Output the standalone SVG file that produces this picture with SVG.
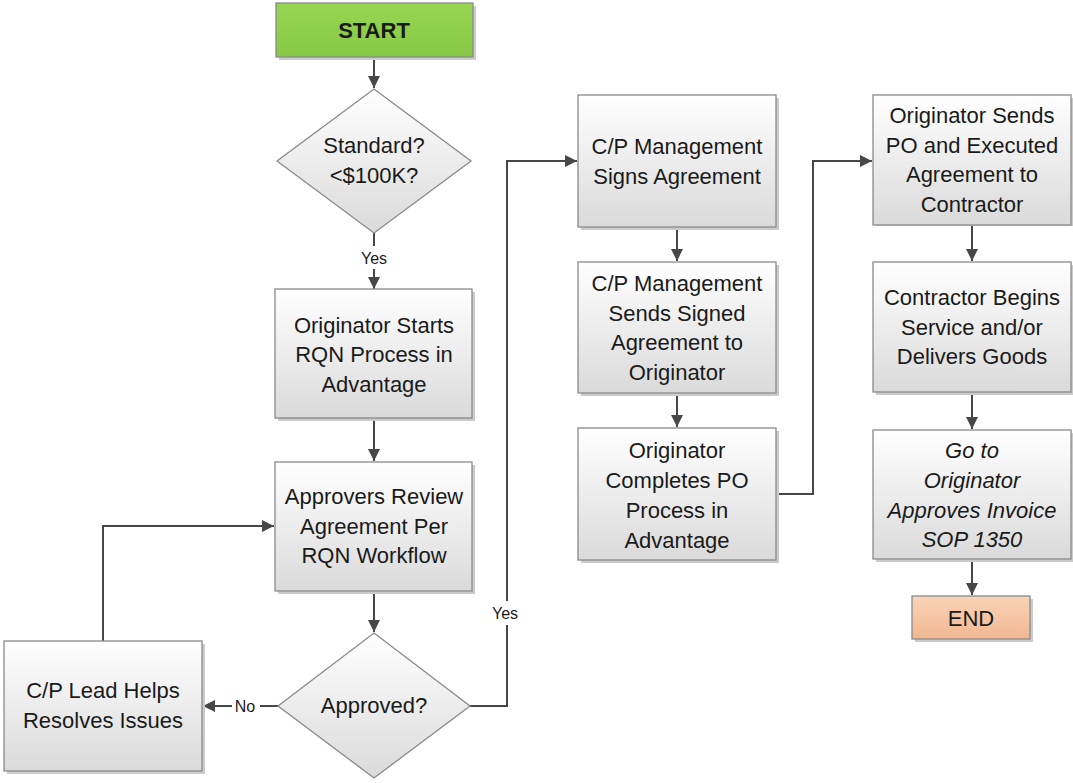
<svg xmlns="http://www.w3.org/2000/svg" width="1073" height="783" viewBox="0 0 1073 783">
  <style>
    .box { fill: url(#gGray); stroke: #8a8a8a; stroke-width: 1.3; }
    .shadow { fill: #cbcbcb; }
    .t { font-family: "Liberation Sans", Arial, sans-serif; font-size: 22px; fill: #1a1a1a; text-anchor: middle; }
    .ti { font-style: italic; }
    .tb { font-weight: bold; }
    .lbl { font-family: "Liberation Sans", Arial, sans-serif; font-size: 16px; fill: #1a1a1a; text-anchor: middle; }
    .conn { fill: none; stroke: #474747; stroke-width: 2; }
  </style>
  <defs>
    <linearGradient id="gGray" x1="0" y1="0" x2="0" y2="1">
      <stop offset="0" stop-color="#ffffff"/>
      <stop offset="1" stop-color="#dadada"/>
    </linearGradient>
    <linearGradient id="gGreen" x1="0" y1="0" x2="0" y2="1">
      <stop offset="0" stop-color="#97d654"/>
      <stop offset="1" stop-color="#86c843"/>
    </linearGradient>
    <linearGradient id="gPeach" x1="0" y1="0" x2="0" y2="1">
      <stop offset="0" stop-color="#fad4b8"/>
      <stop offset="1" stop-color="#f2b790"/>
    </linearGradient>
    <marker id="arrow" viewBox="0 0 10 10" refX="10" refY="5" markerWidth="6.5" markerHeight="6" markerUnits="strokeWidth" orient="auto">
      <path d="M0,0 L10,5 L0,10 z" fill="#474747"/>
    </marker>
  </defs>

  <rect width="1073" height="783" fill="#ffffff"/>

  <!-- connectors -->
  <g id="connectors">
    <line class="conn" x1="374" y1="58" x2="374" y2="88" marker-end="url(#arrow)"/>
    <line class="conn" x1="374" y1="233" x2="374" y2="246"/>
    <line class="conn" x1="374" y1="269" x2="374" y2="289" marker-end="url(#arrow)"/>
    <text class="lbl" x="374" y="264">Yes</text>
    <line class="conn" x1="374" y1="418" x2="374" y2="461" marker-end="url(#arrow)"/>
    <line class="conn" x1="374" y1="591" x2="374" y2="632" marker-end="url(#arrow)"/>
    <polyline class="conn" points="278,706 260,706"/>
    <line class="conn" x1="232" y1="706" x2="203" y2="706" marker-end="url(#arrow)"/>
    <text class="lbl" x="245" y="712">No</text>
    <polyline class="conn" points="103,641 103,526 274,526" marker-end="url(#arrow)"/>
    <polyline class="conn" points="470,706 507,706 507,625"/>
    <polyline class="conn" points="507,601 507,161 577,161" marker-end="url(#arrow)"/>
    <text class="lbl" x="505" y="619">Yes</text>
    <line class="conn" x1="677" y1="227" x2="677" y2="261" marker-end="url(#arrow)"/>
    <line class="conn" x1="677" y1="393" x2="677" y2="427" marker-end="url(#arrow)"/>
    <polyline class="conn" points="776,494 813,494 813,161 872,161" marker-end="url(#arrow)"/>
    <line class="conn" x1="972" y1="225" x2="972" y2="261" marker-end="url(#arrow)"/>
    <line class="conn" x1="972" y1="392" x2="972" y2="429" marker-end="url(#arrow)"/>
    <line class="conn" x1="972" y1="559" x2="972" y2="595" marker-end="url(#arrow)"/>
  </g>

  <!-- start -->
  <g id="start">
    <rect class="shadow" x="279" y="6" width="197" height="54"/>
    <rect x="276" y="3" width="197" height="54" fill="url(#gGreen)" stroke="#8a8a8a" stroke-width="1.3"/>
    <text class="t tb" x="374" y="38">START</text>
  </g>

  <!-- decision: standard -->
  <g id="standard">
    <polygon class="box" points="374,89 471,161 374,233 277,161"/>
    <text class="t" x="374" y="153">Standard?</text>
    <text class="t" x="374" y="183">&lt;$100K?</text>
  </g>

  <g id="originator-starts">
    <rect class="shadow" x="278" y="292" width="197" height="129"/>
    <rect class="box" x="275" y="289" width="197" height="129"/>
    <text class="t" x="374" y="333">Originator Starts</text>
    <text class="t" x="374" y="362">RQN Process in</text>
    <text class="t" x="374" y="392">Advantage</text>
  </g>

  <g id="approvers-review">
    <rect class="shadow" x="278" y="465" width="197" height="129"/>
    <rect class="box" x="275" y="462" width="197" height="129"/>
    <text class="t" x="374" y="504">Approvers Review</text>
    <text class="t" x="374" y="534">Agreement Per</text>
    <text class="t" x="374" y="563">RQN Workflow</text>
  </g>

  <g id="approved">
    <polygon class="box" points="374,633 470,706 374,778 278,706"/>
    <text class="t" x="374" y="713">Approved?</text>
  </g>

  <g id="lead-resolves">
    <rect class="shadow" x="7" y="644" width="198" height="130"/>
    <rect class="box" x="4" y="641" width="198" height="130"/>
    <text class="t" x="103" y="698">C/P Lead Helps</text>
    <text class="t" x="103" y="728">Resolves Issues</text>
  </g>

  <g id="mgmt-signs">
    <rect class="shadow" x="581" y="98" width="198" height="132"/>
    <rect class="box" x="578" y="95" width="198" height="132"/>
    <text class="t" x="677" y="154">C/P Management</text>
    <text class="t" x="677" y="184">Signs Agreement</text>
  </g>

  <g id="mgmt-sends">
    <rect class="shadow" x="581" y="265" width="198" height="131"/>
    <rect class="box" x="578" y="262" width="198" height="131"/>
    <text class="t" x="677" y="291">C/P Management</text>
    <text class="t" x="677" y="321">Sends Signed</text>
    <text class="t" x="677" y="350">Agreement to</text>
    <text class="t" x="677" y="380">Originator</text>
  </g>

  <g id="originator-completes">
    <rect class="shadow" x="581" y="431" width="198" height="132"/>
    <rect class="box" x="578" y="428" width="198" height="132"/>
    <text class="t" x="677" y="458">Originator</text>
    <text class="t" x="677" y="488">Completes PO</text>
    <text class="t" x="677" y="518">Process in</text>
    <text class="t" x="677" y="548">Advantage</text>
  </g>

  <g id="originator-sends">
    <rect class="shadow" x="876" y="98" width="198" height="128"/>
    <rect class="box" x="873" y="95" width="198" height="130"/>
    <text class="t" x="972" y="123">Originator Sends</text>
    <text class="t" x="972" y="153">PO and Executed</text>
    <text class="t" x="972" y="182">Agreement to</text>
    <text class="t" x="972" y="212">Contractor</text>
  </g>

  <g id="contractor-begins">
    <rect class="shadow" x="876" y="265" width="198" height="130"/>
    <rect class="box" x="873" y="262" width="198" height="130"/>
    <text class="t" x="972" y="305">Contractor Begins</text>
    <text class="t" x="972" y="335">Service and/or</text>
    <text class="t" x="972" y="364">Delivers Goods</text>
  </g>

  <g id="go-to-sop">
    <rect class="shadow" x="876" y="433" width="198" height="129"/>
    <rect class="box" x="873" y="430" width="198" height="129"/>
    <text class="t ti" x="972" y="458">Go to</text>
    <text class="t ti" x="972" y="488">Originator</text>
    <text class="t ti" x="972" y="518">Approves Invoice</text>
    <text class="t ti" x="972" y="547">SOP 1350</text>
  </g>

  <g id="end">
    <rect class="shadow" x="915" y="599" width="118" height="43"/>
    <rect x="912" y="596" width="118" height="43" fill="url(#gPeach)" stroke="#8a8a8a" stroke-width="1.3"/>
    <text class="t" x="971" y="626">END</text>
  </g>
</svg>
